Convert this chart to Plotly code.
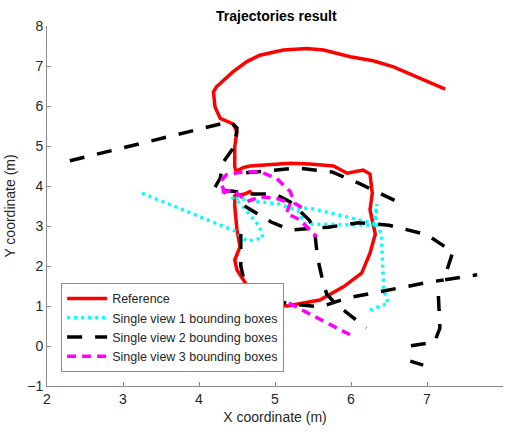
import plotly.graph_objects as go

# Reference trajectory
ref_x = [7.24, 6.86, 6.56, 6.29, 5.99, 5.64, 5.42, 5.11, 4.80, 4.63, 4.45, 4.23, 4.19, 4.21, 4.28, 4.45,
         4.50, 4.47, 4.47, 4.49, 4.58, 4.67, 4.89, 5.20, 5.46, 5.77, 5.95, 6.16, 6.25, 6.28, 6.25, 6.32,
         6.25, 6.14, 5.90, 5.59, 5.16, 4.95, 4.67, 4.50, 4.47, 4.54, 4.50, 4.47, 4.47, 4.60, 4.67, 4.70]
ref_y = [6.42, 6.73, 6.98, 7.13, 7.23, 7.40, 7.44, 7.40, 7.27, 7.11, 6.86, 6.48, 6.35, 5.98, 5.69, 5.55,
         5.36, 4.98, 4.48, 4.36, 4.46, 4.50, 4.53, 4.57, 4.55, 4.50, 4.32, 4.40, 4.30, 3.82, 3.40, 2.80,
         2.32, 1.82, 1.48, 1.15, 1.00, 1.05, 1.40, 1.90, 2.15, 2.48, 2.90, 3.50, 3.75, 3.80, 3.86, 3.80]

# Single view 1 (None = break between pieces)
v1_x = [3.25, 4.47, 4.63, 4.84, 4.80, 4.55, 4.43, 4.70, 5.05, 5.30, 5.40, 5.90, 6.30, 6.34, 6.32, 5.90, 5.45, 5.25,
        None, 6.33, 6.40, 6.43, 6.49, 6.25]
v1_y = [3.82, 2.88, 2.62, 2.70, 2.98, 3.55, 3.72, 3.63, 3.55, 3.38, 3.05, 3.03, 3.02, 3.55, 3.05, 3.25, 3.45, 3.42,
        None, 3.05, 2.80, 1.40, 1.07, 0.90]

# Single view 2
v2_x = [2.30, 4.41, 4.50, 4.47, 4.32, 4.28, 4.19, 4.45, 4.70, 5.00, 5.20, 5.45, 5.52, 5.56, 5.62, 5.68, 5.80, 6.20,
        None, 4.60, 4.95, 5.20, 5.70, 6.10, 6.50, 7.00, 7.34, 7.22, 7.66,
        None, 4.62, 5.30, 5.75, 6.10, 6.62,
        None, 4.55, 4.55, 4.62, 4.85, 5.20, 5.60, 5.95, 6.40, 7.04, 7.22,
        None, 7.15, 7.17, 7.10, 6.71,
        None, 6.78, 6.95]
v2_y = [4.63, 5.61, 5.45, 5.00, 4.60, 4.20, 3.90, 3.87, 3.80, 3.80, 3.60, 3.15, 2.90, 2.20, 1.70, 1.30, 1.05, 0.45,
        None, 3.50, 3.10, 2.90, 2.97, 3.08, 3.02, 2.78, 2.35, 1.65, 1.78,
        None, 4.33, 4.45, 4.35, 4.07, 3.60,
        None, 2.80, 2.00, 1.40, 1.20, 1.05, 0.98, 1.20, 1.37, 1.60, 1.65,
        None, 1.25, 0.45, 0.10, -0.02,
        None, -0.38, -0.48]

# Single view 3
v3_x = [4.35, 4.28, 4.36, 4.54, 4.80, 5.02, 5.20, 5.26, 5.37,
        None, 4.30, 4.45, 4.63, 4.80, 5.02, 5.20, 5.15, 5.33, 5.55,
        None, 4.63, 5.02, 5.99]
v3_y = [3.80, 4.11, 4.28, 4.34, 4.36, 4.19, 3.86, 3.57, 3.44,
        None, 3.85, 3.90, 3.61, 3.73, 3.69, 3.57, 3.32, 3.15, 2.73,
        None, 1.48, 1.23, 0.28]

x_ticks = [2, 3, 4, 5, 6, 7, 8]
y_ticks = [-1, 0, 1, 2, 3, 4, 5, 6, 7, 8]

fig = go.Figure()
fig.add_trace(go.Scatter(x=ref_x, y=ref_y, mode="lines", name="Reference",
                         line=dict(color="#ff0000", width=3.5)))
fig.add_trace(go.Scatter(x=v1_x, y=v1_y, mode="lines", name="Single view 1 bounding boxes",
                         line=dict(color="#00ffff", width=3.5, dash="3px,4px")))
fig.add_trace(go.Scatter(x=v2_x, y=v2_y, mode="lines", name="Single view 2 bounding boxes",
                         line=dict(color="#000000", width=3.5, dash="15px,13px")))
fig.add_trace(go.Scatter(x=v3_x, y=v3_y, mode="lines", name="Single view 3 bounding boxes",
                         line=dict(color="#ff00ff", width=3.5, dash="9px,6px")))

axis_common = dict(showgrid=False, zeroline=False, showline=True, linecolor="#8c8c8c", linewidth=1,
                   ticks="inside", ticklen=4, tickcolor="#8c8c8c",
                   tickfont=dict(family="Liberation Sans, Arial", size=14, color="#262626"),
                   mirror=False)

fig.update_layout(
    width=507, height=432,
    margin=dict(l=47, r=4, t=26, b=46),
    paper_bgcolor="white", plot_bgcolor="white",
    title=dict(text="<b>Trajectories result</b>", x=0.545, xanchor="center", y=0.963, yanchor="middle",
               font=dict(family="Liberation Sans, Arial", size=14, color="#000000")),
    xaxis=dict(range=[2, 8], tickvals=x_ticks,
               title=dict(text="X coordinate (m)", standoff=6,
                          font=dict(family="Liberation Sans, Arial", size=14, color="#262626")),
               **axis_common),
    yaxis=dict(range=[-1, 8], tickvals=y_ticks,
               title=dict(text="Y coordinate (m)", standoff=8,
                          font=dict(family="Liberation Sans, Arial", size=14, color="#262626")),
               **axis_common),
    legend=dict(x=0.031, y=0.039, xanchor="left", yanchor="bottom",
                bgcolor="white", bordercolor="#8c8c8c", borderwidth=1,
                font=dict(family="Liberation Sans, Arial", size=12.5, color="#262626"),
                tracegroupgap=0, itemwidth=40),
    showlegend=True,
)

fig.write_html("out.html")
